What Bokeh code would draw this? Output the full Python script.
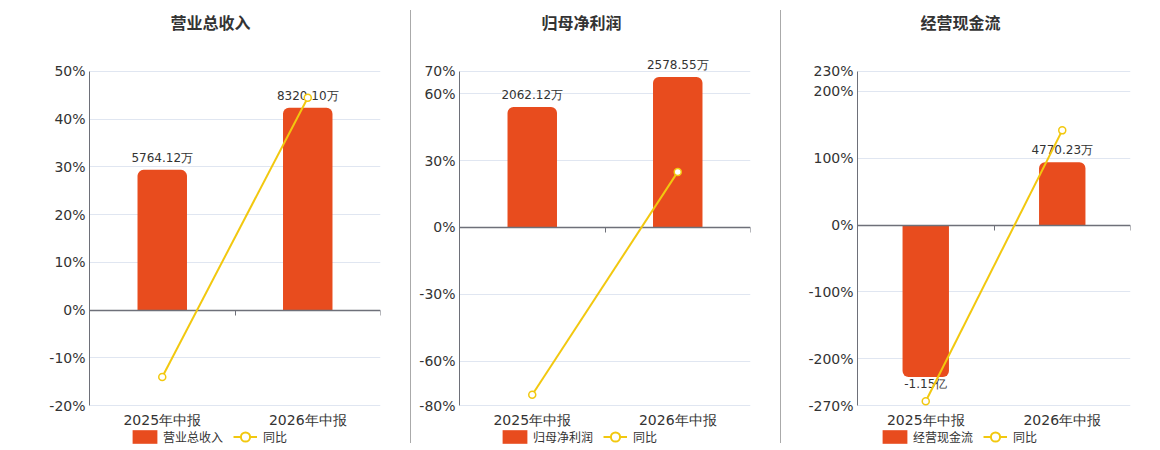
import math
from bokeh.plotting import figure
from bokeh.layouts import row
from bokeh.models import (Range1d, LinearAxis, FixedTicker, ColumnDataSource,
                          Legend, LegendItem, Div, Title, LabelSet,
                          CustomJSTickFormatter)
from bokeh.core.properties import value
from bokeh.embed import file_html
from bokeh.resources import INLINE

# ---------------- data ----------------
periods = ["2025年中报", "2026年中报"]

titles = ["营业总收入", "归母净利润", "经营现金流"]

revenue_wan = [5764.12, 8320.10]
revenue_yoy = [-14.0, 44.5]

netprofit_wan = [2062.12, 2578.55]
netprofit_yoy = [-75.1, 24.9]

cashflow_wan = [-11500.0, 4770.23]
cashflow_yoy = [-263.5, 141.8]

yticks_1 = [-20, -10, 0, 10, 20, 30, 40, 50]
yticks_2 = [-80, -60, -30, 0, 30, 60, 70]
yticks_3 = [-270, -200, -100, 0, 100, 200, 230]

# ---------------- style ----------------
BAR = "#E84C1E"
LINE = "#F2C80F"
AXIS = "#6E7079"
GRID = "#E0E6F1"
TXT = "#333333"
NUM_FONT = "DejaVu Sans"
CJK_FONT = "Noto Sans CJK SC"

FIG_H = 448
FRAME_TOP = 39    # top of plotting frame
AXIS_TOP = 70     # pixel row of the top tick
AXIS_BOT = 405    # pixel row of the bottom tick
FRAME_BOT = 448   # bottom of plotting frame


def fmt(v):
    if abs(v) >= 10000:
        return f"{v / 10000:.2f}亿"
    return f"{v:.2f}万"


def panel(title, bars, yoy, yticks, bar_scale, width, left, right,
          title_offset, legend_x):
    ymin, ymax = yticks[0], yticks[-1]
    ppu = (AXIS_BOT - AXIS_TOP) / (ymax - ymin)
    yend = ymax + (AXIS_TOP - FRAME_TOP) / ppu
    ystart = ymin - (FRAME_BOT - AXIS_BOT) / ppu
    n = len(periods)
    p = figure(width=width, height=FIG_H, output_backend="svg",
               toolbar_location=None, x_range=Range1d(0, n),
               y_range=Range1d(ystart, yend),
               min_border_left=left, min_border_right=right,
               min_border_top=FRAME_TOP, min_border_bottom=FIG_H - FRAME_BOT,
               x_axis_location=None, y_axis_location=None)
    p.outline_line_color = None
    p.background_fill_color = "white"
    p.border_fill_color = "white"
    p.extra_y_ranges = {"bar": Range1d(ystart * bar_scale, yend * bar_scale)}

    t = Title(text=title, align="left", offset=title_offset, standoff=14,
              text_font=CJK_FONT, text_font_size="16px",
              text_font_style="bold", text_color=TXT)
    p.add_layout(t, "above")

    # left value axis
    yax = LinearAxis(ticker=FixedTicker(ticks=yticks), bounds=(ymin, ymax))
    yax.major_label_overrides = {v: f"{v}%" for v in yticks}
    yax.axis_line_color = AXIS
    yax.major_tick_line_color = None
    yax.minor_tick_line_color = None
    yax.major_tick_in = 0
    yax.major_tick_out = 0
    yax.major_label_standoff = 4
    yax.major_label_text_font = NUM_FONT
    yax.major_label_text_font_size = "14px"
    yax.major_label_text_color = TXT
    p.add_layout(yax, "left")

    p.ygrid.ticker = FixedTicker(ticks=yticks)
    p.ygrid.grid_line_color = GRID
    p.xgrid.grid_line_color = None

    centers = [i + 0.5 for i in range(n)]

    # category labels under the value axis
    xax = LinearAxis(ticker=FixedTicker(ticks=centers), fixed_location=ymin)
    xax.major_label_overrides = {c: lab for c, lab in zip(centers, periods)}
    xax.axis_line_color = None
    xax.major_tick_line_color = None
    xax.minor_tick_line_color = None
    xax.major_tick_in = 0
    xax.major_tick_out = 0
    xax.major_label_standoff = 6
    xax.major_label_text_font = NUM_FONT
    xax.major_label_text_font_size = "14px"
    xax.major_label_text_color = TXT
    p.add_layout(xax, "below")

    pos = [(c, v) for c, v in zip(centers, bars) if v >= 0]
    neg = [(c, v) for c, v in zip(centers, bars) if v < 0]
    if pos:
        src = ColumnDataSource(dict(x=[a for a, _ in pos], top=[b for _, b in pos],
                                    bottom=[0] * len(pos),
                                    text=[fmt(b) for _, b in pos]))
        p.vbar(x="x", top="top", bottom="bottom", width=0.34, source=src,
               y_range_name="bar", fill_color=BAR, line_color=None,
               border_radius=(6, 6, 0, 0))
        p.add_layout(LabelSet(x="x", y="top", text="text", source=src,
                              y_range_name="bar", text_align="center",
                              text_baseline="bottom", y_offset=5,
                              text_font=value(NUM_FONT), text_font_size="12px",
                              text_color=TXT))
    if neg:
        src = ColumnDataSource(dict(x=[a for a, _ in neg], top=[0] * len(neg),
                                    bottom=[b for _, b in neg],
                                    text=[fmt(b) for _, b in neg]))
        p.vbar(x="x", top="top", bottom="bottom", width=0.34, source=src,
               y_range_name="bar", fill_color=BAR, line_color=None,
               border_radius=(0, 0, 6, 6))
        p.add_layout(LabelSet(x="x", y="bottom", text="text", source=src,
                              y_range_name="bar", text_align="center",
                              text_baseline="top", y_offset=0,
                              text_font=value(NUM_FONT), text_font_size="12px",
                              text_color=TXT))

    # zero axis line with boundary ticks
    zax = LinearAxis(ticker=FixedTicker(ticks=list(range(n + 1))),
                     fixed_location=0,
                     formatter=CustomJSTickFormatter(code="return ''"))
    zax.axis_line_color = AXIS
    zax.axis_line_width = 1.6
    zax.major_tick_line_color = AXIS
    zax.major_tick_in = 0
    zax.major_tick_out = 5
    zax.minor_tick_line_color = None
    zax.major_label_standoff = 0
    p.add_layout(zax, "below")

    ln = p.line(centers, yoy, line_color=LINE, line_width=2)
    dots = p.scatter(centers, yoy, marker="circle", size=7, fill_color="white",
                     line_color=LINE, line_width=1.5)
    ln.level = "overlay"
    dots.level = "overlay"

    # legend-only glyphs (a single off-scale point, never visible)
    lg_src = ColumnDataSource(dict(x=[math.nan], y=[math.nan]))
    lg_bar = p.vbar(x="x", top="y", bottom="y", width=0.34, source=lg_src,
                    fill_color=BAR, line_color=None)
    lg_line = p.line(x="x", y="y", source=lg_src, line_color=LINE, line_width=2)
    lg_dot = p.scatter(x="x", y="y", source=lg_src, marker="circle", size=11,
                       fill_color="white", line_color=LINE, line_width=2)

    common = dict(orientation="horizontal", padding=0, margin=0,
                  border_line_color=None, background_fill_alpha=0,
                  label_text_font=CJK_FONT, label_text_font_size="12px",
                  label_text_color=TXT)
    leg1 = Legend(items=[LegendItem(label=title, renderers=[lg_bar])],
                  location=(legend_x, 3), glyph_width=31, glyph_height=17,
                  label_height=17, label_standoff=3, **common)
    leg2 = Legend(items=[LegendItem(label="同比", renderers=[lg_line, lg_dot])],
                  location=(legend_x + 104, 0), glyph_width=24, glyph_height=23,
                  label_height=23, label_standoff=6, **common)
    p.add_layout(leg1, "center")
    p.add_layout(leg2, "center")
    return p


p1 = panel(titles[0], revenue_wan, revenue_yoy, yticks_1, 196.2,
           410, 89, 30, 81, 40)
p2 = panel(titles[1], netprofit_wan, netprofit_yoy, yticks_2, 38.2,
           369, 48, 30, 82, 40)
p3 = panel(titles[2], cashflow_wan, cashflow_yoy, yticks_3, 50.6,
           379, 76, 30, 63, 22)


def sep():
    return Div(text="", width=1, height=433, margin=(10, 0, 0, 0),
               styles={"background-color": "#AAAAAA"})


layout = row(p1, sep(), p2, sep(), p3, spacing=0)

with open("out.html", "w") as f:
    f.write(file_html(layout, INLINE))
